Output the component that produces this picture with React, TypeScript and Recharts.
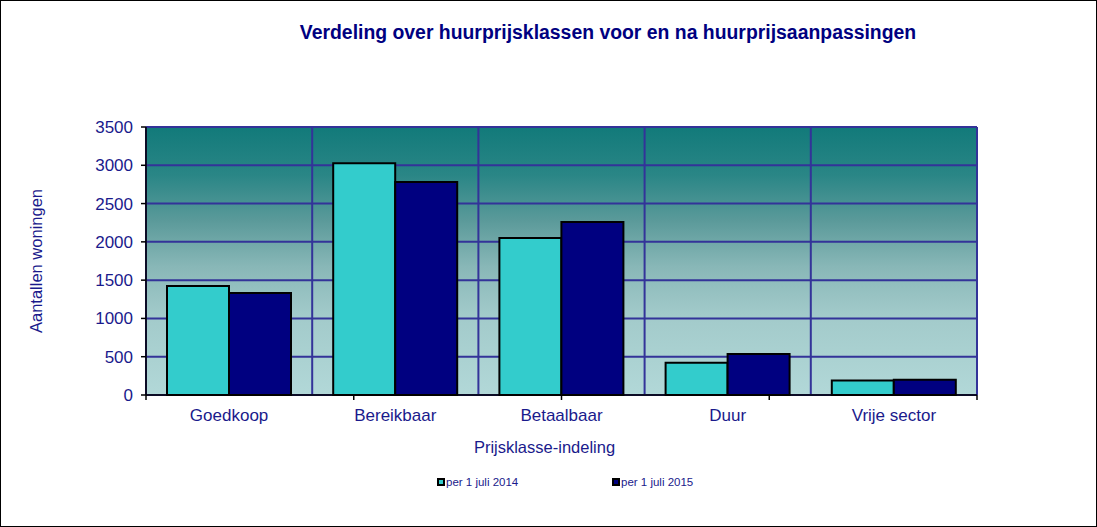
import { BarChart, Bar, XAxis, YAxis, CartesianGrid, Legend } from 'recharts'

const categories = ['Goedkoop', 'Bereikbaar', 'Betaalbaar', 'Duur', 'Vrije sector']
const juli2014 = [1422, 3028, 2050, 421, 188]
const juli2015 = [1332, 2782, 2259, 537, 200]
const yTicks = [0, 500, 1000, 1500, 2000, 2500, 3000, 3500]
const boundaryTicks = [0, 1, 2, 3, 4, 5]

const data = categories.map((name, i) => ({
  name,
  v2014: juli2014[i],
  v2015: juli2015[i],
}))

const NAVY_TEXT = '#1a1a8c'
const FONT = '"Liberation Sans", Arial, sans-serif'
const LEGEND_LEFT = [437, 612]

function LegendContent({ payload }: any) {
  return (
    <div style={{ position: 'relative', height: 14, fontFamily: FONT, fontSize: 11.5, color: NAVY_TEXT }}>
      {(payload || []).map((p: any, i: number) => (
        <div
          key={p.value}
          style={{ position: 'absolute', left: LEGEND_LEFT[i], top: 0, display: 'flex', alignItems: 'center', whiteSpace: 'nowrap' }}
        >
          <span
            style={{
              display: 'inline-block',
              width: 8,
              height: 8,
              boxSizing: 'border-box',
              border: '2px solid #000',
              background: p.color,
              marginRight: 1,
            }}
          />
          <span>{p.value}</span>
        </div>
      ))}
    </div>
  )
}

// boundary ticks of the category bands, drawn as lines only
const emptyTick = () => <g />

export default function App() {
  return (
    <div style={{ position: 'absolute', left: 0, top: 0, width: 1097, height: 527, background: '#fff', fontFamily: FONT }}>
      <div
        style={{
          position: 'absolute',
          left: 0,
          width: 1216,
          top: 21,
          textAlign: 'center',
          fontSize: 19.4,
          fontWeight: 'bold',
          color: '#000080',
        }}
      >
        Verdeling over huurprijsklassen voor en na huurprijsaanpassingen
      </div>
      <BarChart
        width={1097}
        height={527}
        data={data}
        margin={{ top: 127, right: 120, bottom: 71, left: 10 }}
        barGap={0}
        barSize={62}
      >
        <defs>
          <linearGradient id="plotBg" x1="0" y1="0" x2="0" y2="1">
            <stop offset="0%" stopColor="#127a7a" />
            <stop offset="18%" stopColor="#2a8686" />
            <stop offset="35%" stopColor="#5b9a9a" />
            <stop offset="52%" stopColor="#88b7b7" />
            <stop offset="70%" stopColor="#a2caca" />
            <stop offset="100%" stopColor="#b2d8d8" />
          </linearGradient>
        </defs>
        <CartesianGrid
          stroke="#333399"
          strokeWidth={2}
          fill="url(#plotBg)"
          fillOpacity={1}
          verticalCoordinatesGenerator={({ offset }: any) =>
            boundaryTicks.map((t) => offset.left + (t * offset.width) / categories.length)
          }
        />
        <XAxis
          xAxisId="b"
          type="number"
          domain={[0, 5]}
          ticks={boundaryTicks}
          height={1}
          tick={emptyTick}
          tickSize={5}
          axisLine={{ stroke: '#000', strokeWidth: 1.5 }}
          tickLine={{ stroke: '#000', strokeWidth: 1.5 }}
        />
        <XAxis
          xAxisId="cat"
          dataKey="name"
          height={60}
          tickLine={false}
          axisLine={false}
          tickSize={5}
          tickMargin={8}
          tick={{ fill: NAVY_TEXT, fontSize: 17 }}
          label={{ value: 'Prijsklasse-indeling', position: 'insideBottom', offset: 3, dx: -17, fill: NAVY_TEXT, fontSize: 16.5 }}
        />
        <YAxis
          width={136}
          domain={[0, 3500]}
          ticks={yTicks}
          tickSize={5}
          tickMargin={8}
          axisLine={{ stroke: '#000', strokeWidth: 1.5 }}
          tickLine={{ stroke: '#000', strokeWidth: 1.5 }}
          tick={{ fill: NAVY_TEXT, fontSize: 17 }}
          label={{
            value: 'Aantallen woningen',
            angle: -90,
            position: 'insideLeft',
            offset: 26,
            fill: NAVY_TEXT,
            fontSize: 16.5,
            style: { textAnchor: 'middle' },
          }}
        />
        <Legend
          layout="vertical"
          align="center"
          verticalAlign="middle"
          wrapperStyle={{ left: 0, top: 476, width: 1097 }}
          content={<LegendContent />}
        />
        <Bar xAxisId="cat" dataKey="v2014" name="per 1 juli 2014" fill="#33cccc" stroke="#000" strokeWidth={2} isAnimationActive={false} />
        <Bar xAxisId="cat" dataKey="v2015" name="per 1 juli 2015" fill="#000080" stroke="#000" strokeWidth={2} isAnimationActive={false} />
      </BarChart>
      <div
        style={{
          position: 'absolute',
          left: 0,
          top: 0,
          width: 1097,
          height: 527,
          boxSizing: 'border-box',
          border: '1.5px solid #000',
          pointerEvents: 'none',
        }}
      />
    </div>
  )
}
